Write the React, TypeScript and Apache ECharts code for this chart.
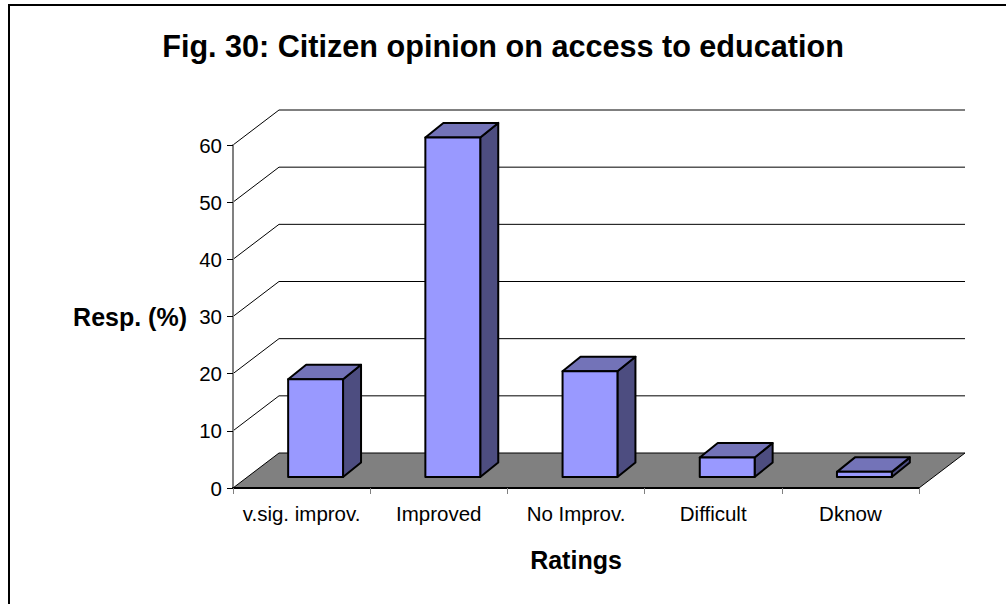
import React, { useEffect, useRef } from "react";
import * as echarts from "echarts";

const categories = ["v.sig. improv.", "Improved", "No Improv.", "Difficult", "Dknow"];
const responses = [17.1, 59.4, 18.5, 3.4, 0.9];
const valueTicks = [0, 10, 20, 30, 40, 50, 60];

const CHART_FONT = "'Liberation Sans', Arial, sans-serif";
const WALL_DX = 46;
const WALL_DY = -35;
const BAR_DX = 18;
const BAR_DY = -14.5;
const BAR_SHIFT_X = 14;
const BAR_SHIFT_Y = -11;

// Left and right ends of the category axis, taken from the first and last bands.
const axisEnds = (api: any) => {
  const band = api.size([1, 0])[0];
  return [
    api.coord([0, 0])[0] - band / 2,
    api.coord([categories.length - 1, 0])[0] + band / 2,
  ];
};

// Gridlines run obliquely from the value axis to the back wall, then across it.
const renderGridline = (_params: any, api: any) => {
  const y = api.coord([0, api.value(0)])[1];
  const [xa, xb] = axisEnds(api);
  return {
    type: "polyline",
    shape: { points: [[xa, y], [xa + WALL_DX, y + WALL_DY], [xb + WALL_DX, y + WALL_DY]] },
    style: { fill: "none", stroke: "#000", lineWidth: 1 },
    silent: true,
  };
};

const renderFloor = (_params: any, api: any) => {
  const y = api.coord([0, 0])[1];
  const [xa, xb] = axisEnds(api);
  return {
    type: "polygon",
    shape: {
      points: [[xa, y], [xa + WALL_DX, y + WALL_DY], [xb + WALL_DX, y + WALL_DY], [xb, y]],
    },
    style: { fill: "#808080", stroke: "#000", lineWidth: 1 },
    silent: true,
  };
};

// A cuboid: front face from the value, plus a lighter top and a darker side.
const renderBar = (_params: any, api: any) => {
  const cat = api.value(0);
  const [cx, yBase] = api.coord([cat, 0]);
  const yTop = api.coord([cat, api.value(1)])[1];
  const w = api.size([1, 0])[0] * 0.4;
  const l = cx - w / 2 + BAR_SHIFT_X;
  const r = l + w;
  const t = yTop + BAR_SHIFT_Y;
  const b = yBase + BAR_SHIFT_Y;
  const edge = { stroke: "#000", lineWidth: 2, lineJoin: "round" };
  return {
    type: "group",
    children: [
      {
        type: "polygon",
        shape: { points: [[r, t], [r + BAR_DX, t + BAR_DY], [r + BAR_DX, b + BAR_DY], [r, b]] },
        style: { fill: "#4d4d80", ...edge },
      },
      {
        type: "polygon",
        shape: { points: [[l, t], [l + BAR_DX, t + BAR_DY], [r + BAR_DX, t + BAR_DY], [r, t]] },
        style: { fill: "#7373b8", ...edge },
      },
      {
        type: "rect",
        shape: { x: l, y: t, width: w, height: b - t },
        style: { fill: "#9999ff", ...edge },
      },
    ],
  };
};

export default function App() {
  const ref = useRef<HTMLDivElement>(null);

  useEffect(() => {
    const chart = echarts.init(ref.current!, undefined, { renderer: "svg" });
    chart.setOption({
      animation: false,
      backgroundColor: "#fff",
      title: {
        text: "Fig. 30: Citizen opinion on access to education",
        left: 498,
        top: 25,
        textAlign: "center",
        textStyle: { fontFamily: CHART_FONT, fontSize: 30.6, fontWeight: "bold", color: "#000" },
      },
      grid: { left: 233, top: 145, width: 686, height: 343 },
      xAxis: {
        type: "category",
        data: categories,
        boundaryGap: true,
        z: 5,
        name: "Ratings",
        nameLocation: "middle",
        nameGap: 59,
        nameTextStyle: { fontFamily: CHART_FONT, fontSize: 25, fontWeight: "bold", color: "#000" },
        axisLine: { show: true, lineStyle: { color: "#000", width: 2 } },
        axisTick: { show: true, length: 6, alignWithLabel: false, lineStyle: { color: "#808080", width: 1 } },
        axisLabel: { fontFamily: CHART_FONT, fontSize: 20.5, color: "#000", margin: 15, interval: 0 },
        splitLine: { show: false },
      },
      yAxis: {
        type: "value",
        min: 0,
        max: 60,
        interval: 10,
        z: 5,
        name: "Resp. (%)",
        nameLocation: "middle",
        nameRotate: 0,
        nameGap: 46,
        nameTextStyle: { fontFamily: CHART_FONT, fontSize: 25, fontWeight: "bold", color: "#000", padding: [0, 0, 2, 0] },
        axisLine: { show: true, lineStyle: { color: "#808080", width: 2 } },
        axisTick: { show: true, length: 6, lineStyle: { color: "#000", width: 1 } },
        axisLabel: { fontFamily: CHART_FONT, fontSize: 20.5, color: "#000", margin: 11 },
        splitLine: { show: false },
      },
      graphic: [
        {
          type: "rect",
          shape: { x: 9, y: 5, width: 1100, height: 700 },
          style: { fill: "none", stroke: "#000", lineWidth: 2 },
          silent: true,
        },
      ],
      series: [
        {
          type: "custom",
          renderItem: renderGridline,
          data: valueTicks.filter((v) => v > 0).map((v) => [v]),
          encode: { y: 0 },
          z: 1,
        },
        {
          type: "custom",
          renderItem: renderFloor,
          data: [[0]],
          encode: { y: 0 },
          z: 2,
        },
        {
          type: "custom",
          renderItem: renderBar,
          data: responses.map((v, i) => [i, v]),
          encode: { x: 0, y: 1 },
          z: 3,
        },
      ],
    });
    return () => chart.dispose();
  }, []);

  return <div ref={ref} style={{ position: "fixed", left: 0, top: 0, width: 1006, height: 604 }} />;
}
